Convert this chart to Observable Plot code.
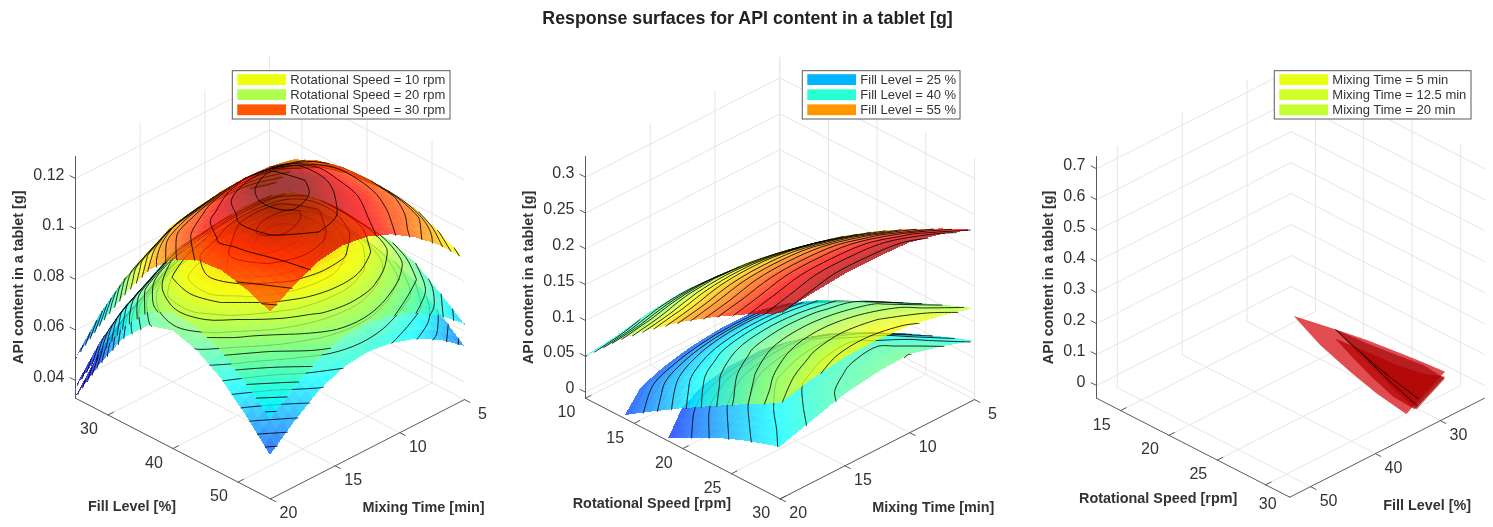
<!DOCTYPE html>
<html><head><meta charset="utf-8">
<script src="https://cdn.jsdelivr.net/npm/d3@7"></script>
<script src="https://cdn.jsdelivr.net/npm/@observablehq/plot@0.6"></script>
<style>html,body{margin:0;padding:0;background:#fff}svg{display:block}</style>
</head><body><div id="chart"></div>
<script>
// ---------- values (API content in units of 0.0001 g) ----------
const chartTitle = "Response surfaces for API content in a tablet [g]";
const fillNodes = [25,28.75,32.5,36.25,40,43.75,47.5,51.25,55];
const mixNodes = [20,18.125,16.25,14.375,12.5,10.625,8.75,6.875,5];
// rows: fill level, columns: mixing time
const speed10 = [
[332,461,551,611,676,691,701,696,656],
[512,645,705,760,780,798,806,799,751],
[668,780,836,854,871,877,874,856,778],
[766,856,886,900,930,935,915,869,779],
[796,858,898,937,961,959,918,861,759],
[767,823,869,907,926,915,883,832,741],
[704,752,809,846,862,861,834,788,696],
[610,672,730,771,789,788,761,720,622],
[502,586,657,700,712,700,667,614,541]];
const speed20 = [
[371,499,588,646,710,724,733,726,685],
[552,685,745,800,820,837,844,836,788],
[711,823,880,899,917,922,919,900,822],
[822,912,942,960,989,990,969,922,830],
[868,929,967,1005,1028,1024,981,922,818],
[858,911,955,990,1006,991,956,902,807],
[814,857,910,943,955,949,917,866,770],
[738,794,846,882,894,887,854,807,703],
[647,724,788,824,829,810,770,710,629]];
const speed30 = [
[486,610,695,750,810,820,825,815,770],
[668,800,860,915,935,950,955,945,895],
[836,950,1010,1030,1050,1055,1050,1030,950],
[985,1075,1105,1135,1155,1145,1115,1075,980],
[1077,1135,1172,1217,1228,1204,1150,1100,990],
[1125,1160,1202,1238,1239,1206,1145,1105,1000],
[1134,1150,1198,1224,1216,1178,1140,1090,985],
[1111,1145,1168,1190,1180,1155,1115,1060,940],
[1070,1126,1170,1185,1170,1130,1069,989,888]];

const mixNodes2 = [20,17.5,15,12.5,10,7.5,5];
// The two lower surfaces of the middle panel stop where they meet the floor of the box,
// so each mixing time has its own run of speeds. Rows: mixing time, columns: along the speed.
const speedNodes55 = [10,13.33,16.67,20,23.33,26.67,30];
const speedRuns40 = [
[14.1,16.75,19.4,22.05,24.7,27.35,30],
[12.4,15.33,18.27,21.2,24.13,27.07,30],
[11.5,14.58,17.67,20.75,23.83,26.92,30],
[10.9,14.08,17.27,20.45,23.63,26.82,30],
[10.6,13.83,17.07,20.3,23.53,26.77,30],
[10.6,13.83,17.07,20.3,23.53,26.77,30],
[12,15,18,21,24,27,30]];
const speedRuns25 = [
[18.54,20.45,22.36,24.27,26.18,28.09,30],
[16.6,18.83,21.07,23.3,25.53,27.77,30],
[15.4,17.83,20.27,22.7,25.13,27.57,30],
[14.8,17.33,19.87,22.4,24.93,27.47,30],
[14.8,17.33,19.87,22.4,24.93,27.47,30],
[15.8,18.17,20.53,22.9,25.27,27.63,30],
[18,20,22,24,26,28,30]];
const fill55 = [
[497,953,1339,1679,1980,2250,2497],
[560,1012,1395,1733,2030,2300,2544],
[655,1095,1468,1796,2086,2349,2586],
[700,1130,1494,1815,2097,2354,2586],
[680,1109,1473,1793,2075,2331,2563],
[610,1030,1385,1698,1974,2225,2451],
[520,921,1261,1560,1823,2063,2279]];
const fill40 = [
[-37,195,423,637,846,1051,1242],
[0,299,570,801,1005,1195,1358],
[0,356,655,896,1096,1266,1423],
[0,372,673,916,1117,1289,1432],
[0,364,658,896,1092,1260,1400],
[0,341,616,839,1023,1180,1311],
[0,230,440,640,840,1020,1186]];
const fill25 = [
[-51,93,228,349,460,549,637],
[0,202,365,497,605,698,776],
[0,255,456,610,729,829,911],
[0,274,490,657,784,892,980],
[0,281,502,673,803,914,1004],
[0,230,415,565,689,795,883],
[0,146,277,402,518,628,730]];

// third panel: the visible slivers, as two boundary runs of speed, fill level and content
const mix5Upper = {r:[19.46,22.64,24.88,27.14,28.82,30.4], f:[33.1,31.45,29.92,28.66,27.31,26.08], z:[.12,.11,.095,.08,.06,.04]};
const mix5Lower = {r:[19.46,23.14,26.74,29.68,31.26,32.38], f:[33.1,34.51,35.29,35.59,35.35,35.0], z:[.12,.10,.08,.06,.045,.03]};
const mix12Upper = {r:[22.64,25.06,27.16,28.92,30.92], f:[31.45,30.19,28.69,27.22,26.86], z:[.11,.09,.07,.05,.035]};
const mix12Lower = {r:[22.64,25.7,28.12,30.56,32.44], f:[31.45,32.68,33.22,33.79,33.49], z:[.11,.10,.08,.06,.03]};
const mix20Upper = {r:[23.24,25.74,28.18,29.76,30.74], f:[32.35,31.21,30.22,28.48,26.59], z:[.10,.085,.07,.05,.035]};
const mix20Lower = {r:[23.24,25.88,28.48,30.74,32.34], f:[32.35,33.49,34.27,34.57,33.64], z:[.10,.09,.075,.055,.03]};
const contourA = {r:[21.7,24.8,28.46,32.96], f:[30.04,31.33,32.71,34.06], z:.08};
const contourB = {r:[24.62,28.18,32.92], f:[30.55,32.29,34.24], z:.06};

const zTicks1=[.04,.06,.08,.1,.12], zTicks2=[0,.05,.1,.15,.2,.25,.3], zTicks3=[0,.1,.2,.3,.4,.5,.6,.7];
const fillTicks=[30,40,50], mixTicks=[5,10,15,20], speedTicks2=[10,15,20,25,30], speedTicks3=[15,20,25,30];
const legend1=[["Rotational Speed = 10 rpm","#edff0c"],["Rotational Speed = 20 rpm","#b0ff50"],["Rotational Speed = 30 rpm","#ff5500"]];
const legend2=[["Fill Level = 25 %","#00b4ff"],["Fill Level = 40 %","#28ffd2"],["Fill Level = 55 %","#ff9600"]];
const legend3=[["Mixing Time = 5 min","#e6ff14"],["Mixing Time = 12.5 min","#d2ff2a"],["Mixing Time = 20 min","#c4ff34"]];

// ---------- view of each panel ----------
const view1={L:[75,397.7],A:[195,100.7],B:[194,-99.3],K:2525,z0:.033,z1:.1288,ad:[25,55],bd:[20,5],
  aT:fillTicks,bT:mixTicks,zT:zTicks1,aName:"Fill Level [%]",bName:"Mixing Time [min]",
  aTitle:[-41,58],bTitle:[56,58],zTitleDx:-57,zLabelDx:-11,levels:d3.range(350,1290,35),
  leg:{x1:232.3,x2:450,items:legend1}};
const view2={L:[585,397.7],A:[194.7,100.7],B:[194.3,-99.3],K:716.7,z0:-.0084,z1:.3288,ad:[10,30],bd:[20,5],
  aT:speedTicks2,bT:mixTicks,zT:zTicks2,aName:"Rotational Speed [rpm]",bName:"Mixing Time [min]",
  aTitle:[-31,55],bTitle:[56,58],zTitleDx:-57,zLabelDx:-11,levels:d3.range(125,2700,125),
  leg:{x1:802.3,x2:960,items:legend2}};
const view3={L:[1096,397.7],A:[193.3,99],B:[194.7,-99],K:309.7,z0:-.041,z1:.739,ad:[12.5,32.5],bd:[53.2,23.2],
  aT:speedTicks3,bT:fillTicks,zT:zTicks3,aName:"Rotational Speed [rpm]",bName:"Fill Level [%]",
  aTitle:[-35,51],bTitle:[40,58],zTitleDx:-48,zLabelDx:-11,lastALabel:[2,19],
  leg:{x1:1274.3,x2:1471,items:legend3}};

const FONT="Liberation Sans, Arial, Helvetica, sans-serif";
const frac=(d,v)=>(v-d[0])/(d[1]-d[0]);
function proj(V,a,b,z){
  const u=frac(V.ad,a), w=frac(V.bd,b);
  return [V.L[0]+u*V.A[0]+w*V.B[0], V.L[1]+u*V.A[1]+w*V.B[1]-(z-V.z0)*V.K];
}
function jet(t){
  const c=x=>Math.round(255*Math.max(0,Math.min(1,x)));
  return `rgb(${c(Math.min(4*t-1.5,-4*t+4.5))},${c(Math.min(4*t-.5,-4*t+3.5))},${c(Math.min(4*t+.5,-4*t+2.5))})`;
}
const lerp=(arr,t)=>{const i=Math.min(arr.length-2,Math.floor(t));return arr[i]+(arr[i+1]-arr[i])*(t-i);};

let uid=0;
// Turns a read grid into shaded facets. The facets stay on the read nodes; each one is
// only split so that its colour can vary across it, as interpolated shading does.
// aN: node values along the first axis, one run, or one run per column (matrix [i][j]).
function surface(V,aN,bN,grid,clim,marks){
  const SUB=4, front=[], back=[];
  const A=(i,j)=>Array.isArray(aN[0])?aN[i][j]:aN[i];
  const nI=grid.length, nJ=bN.length;
  const scale=d3.scaleLinear().domain(clim).range(clim.length===3?[0,.82,1]:[0,1]).clamp(true);
  const P=(i,j)=>proj(V,A(i,j),bN[j],grid[i][j]/1e4);
  const cellBack=[];
  for(let i=0;i<nI-1;i++){cellBack[i]=[];for(let j=0;j<nJ-1;j++){
    const p=[P(i,j),P(i+1,j),P(i+1,j+1),P(i,j+1)];
    const area=d3.polygonArea(p);
    const isBack=area<0; cellBack[i][j]=isBack;
    const z00=grid[i][j],z10=grid[i+1][j],z11=grid[i+1][j+1],z01=grid[i][j+1];
    const pt=(s,t)=>[
      (1-s)*(1-t)*p[0][0]+s*(1-t)*p[1][0]+s*t*p[2][0]+(1-s)*t*p[3][0],
      (1-s)*(1-t)*p[0][1]+s*(1-t)*p[1][1]+s*t*p[2][1]+(1-s)*t*p[3][1]];
    for(let a=0;a<SUB;a++)for(let b=0;b<SUB;b++){
      const s0=a/SUB,s1=(a+1)/SUB,t0=b/SUB,t1=(b+1)/SUB,sm=(s0+s1)/2,tm=(t0+t1)/2;
      const zm=((1-sm)*(1-tm)*z00+sm*(1-tm)*z10+sm*tm*z11+(1-sm)*tm*z01)/1e4;
      const color=jet(scale(zm)), id=uid++;
      const A0=pt(s0,t0),A1=pt(s0,t1),B0=pt(s1,t0),B1=pt(s1,t1);
      (isBack?back:front).push({id,color,x1:A0[0],y1:A0[1],x2:A1[0],y2:A1[1]},{id,color,x1:B0[0],y1:B0[1],x2:B1[0],y2:B1[1]});
    }
  }}
  // contour lines of the read grid
  const dx=nJ, dy=nI, flat=grid.flat();
  const aAt=(ii,jj)=>{
    const i=Math.min(nI-2,Math.floor(ii)),j=Math.min(nJ-2,Math.floor(jj)),s=ii-i,t=jj-j;
    return (1-s)*(1-t)*A(i,j)+s*(1-t)*A(i+1,j)+s*t*A(i+1,j+1)+(1-s)*t*A(i,j+1);
  };
  const polys=d3.contours().size([dx,dy]).thresholds(V.levels)(flat);
  const lf=[], lb=[];
  polys.forEach(mp=>{
    const level=mp.value/1e4;
    mp.coordinates.forEach(poly=>poly.forEach(ring=>{
      let run=null, runBack=null, last=null;
      const endRun=()=>{if(run&&run.length>1){const id=uid++;(runBack?lb:lf).push(...run.map(q=>({id,x:q[0],y:q[1]})));}run=null;};
      ring.forEach(pt=>{
        const [x,y]=pt;
        if(x<=0||x>=dx||y<=0||y>=dy){endRun();last=null;return;}
        const jj=x-.5, ii=y-.5;
        const q=proj(V,aAt(ii,jj),lerp(bN,jj),level);
        let b=false;
        if(last){const ci=Math.min(dy-2,Math.max(0,Math.floor((ii+last[0])/2))),cj=Math.min(dx-2,Math.max(0,Math.floor((jj+last[1])/2)));b=cellBack[ci][cj];}
        if(last&&run&&runBack!==null&&runBack!==b){const prev=run[run.length-1];endRun();run=[prev];}
        if(!run)run=[];
        if(last)runBack=b;
        run.push(q); last=[ii,jj];
      });
      endRun();
    }));
  });
  const facet=d=>Plot.area(d,{x1:"x1",y1:"y1",x2:"x2",y2:"y2",z:"id",fill:"color",fillOpacity:.76,shapeRendering:"crispEdges"});
  const line=(d,o)=>Plot.line(d,{x:"x",y:"y",z:"id",stroke:"#000",strokeWidth:.9,strokeOpacity:o,curve:"catmull-rom"});
  marks.push(facet(back),line(lb,.9),facet(front),line(lf,.92));
}

function frame(V){
  const m=[], grid=[], ax=[];
  const seg=(list,p,q)=>{const id=uid++;list.push({id,x:p[0],y:p[1]},{id,x:q[0],y:q[1]});};
  const [a0,a1]=V.ad,[b0,b1]=V.bd;
  V.aT.forEach(a=>{seg(grid,proj(V,a,b0,V.z0),proj(V,a,b1,V.z0));seg(grid,proj(V,a,b1,V.z0),proj(V,a,b1,V.z1));
    const da=(b1-b0)*.028; seg(ax,proj(V,a,b0,V.z0),proj(V,a,b0+da,V.z0));});
  V.bT.forEach(b=>{seg(grid,proj(V,a0,b,V.z0),proj(V,a1,b,V.z0));seg(grid,proj(V,a0,b,V.z0),proj(V,a0,b,V.z1));
    const da=(a1-a0)*.028; seg(ax,proj(V,a1,b,V.z0),proj(V,a1+da,b,V.z0));});
  V.zT.forEach(z=>{seg(grid,proj(V,a0,b0,z),proj(V,a0,b1,z));seg(grid,proj(V,a0,b1,z),proj(V,a1,b1,z));
    const da=(a1-a0)*.028; seg(ax,proj(V,a0,b0,z),proj(V,a0-da,b0,z));});
  seg(ax,proj(V,a0,b0,V.z0),proj(V,a1,b0,V.z0));
  seg(ax,proj(V,a1,b0,V.z0),proj(V,a1,b1,V.z0));
  seg(ax,proj(V,a0,b0,V.z0),proj(V,a0,b0,V.z1));
  m.push(Plot.line(grid,{x:"x",y:"y",z:"id",stroke:"#e6e6e6",strokeWidth:1}));
  m.push(Plot.line(ax,{x:"x",y:"y",z:"id",stroke:"#5a5a5a",strokeWidth:1}));
  return m;
}
function labels(V){
  const t=(d,o)=>Plot.text(d,{x:q=>q.p[0],y:q=>q.p[1],text:"s",fontFamily:FONT,fill:"#333",lineAnchor:"middle",...o});
  const [a0,a1]=V.ad,[b0,b1]=V.bd;
  const mid=[(a0+a1)/2,(b0+b1)/2];
  const aTicks=V.lastALabel?V.aT.slice(0,-1):V.aT;
  const out=[
    t(aTicks.map(a=>({s:String(a),p:proj(V,a,b0,V.z0)})),{fontSize:16,dx:-19,dy:14,textAnchor:"middle"}),
    t(V.bT.map(b=>({s:String(b),p:proj(V,a1,b,V.z0)})),{fontSize:16,dx:18,dy:14,textAnchor:"middle"}),
    t(V.zT.map(z=>({s:String(z),p:proj(V,a0,b0,z)})),{fontSize:16,dx:V.zLabelDx,dy:-4,textAnchor:"end"}),
    t([{s:V.aName,p:proj(V,mid[0],b0,V.z0)}],{fontSize:14.4,fontWeight:"bold",dx:V.aTitle[0],dy:V.aTitle[1],textAnchor:"middle"}),
    t([{s:V.bName,p:proj(V,a1,mid[1],V.z0)}],{fontSize:14.4,fontWeight:"bold",dx:V.bTitle[0],dy:V.bTitle[1],textAnchor:"middle"}),
    t([{s:"API content in a tablet [g]",p:proj(V,a0,b0,(V.z0+V.z1)/2)}],{fontSize:14.4,fontWeight:"bold",rotate:-90,dx:V.zTitleDx,dy:0,textAnchor:"middle"})
  ];
  if(V.lastALabel){const a=V.aT[V.aT.length-1];
    out.push(t([{s:String(a),p:proj(V,a,b0,V.z0)}],{fontSize:16,dx:V.lastALabel[0],dy:V.lastALabel[1],textAnchor:"middle"}));}
  return out;
}
function legend(V){
  const {x1,x2,items}=V.leg, top=70.7, row=15.1;
  const rows=items.map((d,i)=>({s:d[0],c:d[1],y:top+8.9+row*i}));
  return [
    Plot.rect([0],{x1:()=>x1,x2:()=>x2,y1:()=>top,y2:()=>top+48.3,fill:"#fff",stroke:"#5a5a5a",strokeWidth:1}),
    Plot.rect(rows,{x1:()=>x1+5,x2:()=>x1+53.7,y1:d=>d.y-5.4,y2:d=>d.y+5.4,fill:"c"}),
    Plot.text(rows,{x:()=>x1+57.5,y:"y",text:"s",fontFamily:FONT,fontSize:13,fill:"#333",textAnchor:"start",lineAnchor:"middle"})
  ];
}
function sliver(V,up,lo,color,op,marks){
  const pts=[];
  const n=up.r.length;
  for(let i=0;i<n;i++){const p=proj(V,up.r[i],up.f[i],up.z[i]),q=proj(V,lo.r[i],lo.f[i],lo.z[i]);
    pts.push({x1:p[0],y1:p[1],x2:q[0],y2:q[1]});}
  marks.push(Plot.area(pts,{x1:"x1",y1:"y1",x2:"x2",y2:"y2",fill:color,fillOpacity:op}));
}
function contour3(V,c,marks){
  const d=c.r.map((r,i)=>{const p=proj(V,r,c.f[i],c.z);return {x:p[0],y:p[1]};});
  marks.push(Plot.line(d,{x:"x",y:"y",stroke:"#000",strokeWidth:.8,curve:"catmull-rom"}));
}

const marks=[];
[view1,view2,view3].forEach(V=>marks.push(...frame(V)));
const clim1=[.031,.112,.124];
surface(view1,fillNodes,mixNodes,speed10,clim1,marks);
surface(view1,fillNodes,mixNodes,speed20,clim1,marks);
surface(view1,fillNodes,mixNodes,speed30,clim1,marks);
surface(view2,d3.transpose(speedRuns25),mixNodes2,d3.transpose(fill25),[-.06,.27],marks);
surface(view2,d3.transpose(speedRuns40),mixNodes2,d3.transpose(fill40),[-.065,.261],marks);
surface(view2,speedNodes55,mixNodes2,d3.transpose(fill55),[-.083,.27],marks);
sliver(view3,mix5Upper,mix5Lower,"#d8141a",.76,marks);
sliver(view3,mix12Upper,mix12Lower,"#9a0000",.6,marks);
sliver(view3,mix20Upper,mix20Lower,"#b40000",.7,marks);
contour3(view3,contourA,marks);contour3(view3,contourB,marks);
[view1,view2,view3].forEach(V=>{marks.push(...labels(V),...legend(V));});
marks.push(Plot.text([chartTitle],{x:()=>747,y:()=>18,text:d=>d,fontFamily:FONT,fontSize:17.8,fontWeight:"bold",fill:"#222",textAnchor:"middle",lineAnchor:"middle"}));

const svg=Plot.plot({width:1493,height:527,margin:0,
  x:{domain:[0,1493],range:[0,1493],axis:null},
  y:{domain:[0,527],range:[0,527],axis:null},
  color:{type:"identity"},
  style:{background:"#fff",filter:"blur(0.35px)",overflow:"hidden"},
  marks});
document.getElementById("chart").appendChild(svg);
</script></body></html>
